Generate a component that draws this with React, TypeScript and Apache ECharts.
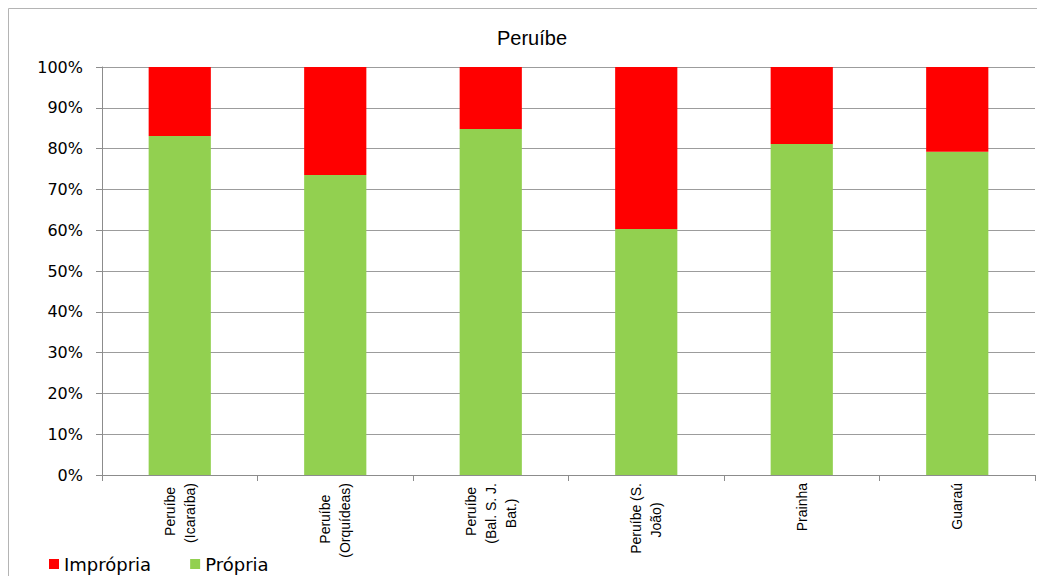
import React, { useEffect, useRef } from "react";
import * as echarts from "echarts";

const categories = [
  "Peruíbe\n(Icaraíba)",
  "Peruíbe\n(Orquídeas)",
  "Peruíbe\n(Bal. S. J.\nBat.)",
  "Peruíbe (S.\nJoão)",
  "Prainha",
  "Guaraú",
];
const propria = [0.831, 0.735, 0.848, 0.603, 0.811, 0.792];
const impropria = [0.169, 0.265, 0.152, 0.397, 0.189, 0.208];
const legendNames = ["Imprópria", "Própria"];
const chartTitle = "Peruíbe";

const LABEL_FONT = "Liberation Sans";
const LABEL_SIZE = 14;
const LABEL_LH = 20;

function centerLines(label: string) {
  const canvas = document.createElement("canvas");
  const ctx = canvas.getContext("2d")!;
  ctx.font = `${LABEL_SIZE}px "${LABEL_FONT}"`;
  const lines = label.split("\n");
  const widths = lines.map((l) => ctx.measureText(l).width);
  const maxW = Math.max(...widths);
  const sp = ctx.measureText("\u00A0").width || 3.9;
  return lines
    .map((l, j) => {
      const n = Math.round((maxW - widths[j]) / 2 / sp);
      const pad = "\u00A0".repeat(n);
      return pad + l + pad;
    })
    .join("\n");
}

export default function App() {
  const ref = useRef<HTMLDivElement>(null);
  useEffect(() => {
    if (!ref.current) return;
    const chart = echarts.init(ref.current, null, { renderer: "svg" });
    chart.setOption({
      animation: false,
      backgroundColor: "#ffffff",
      title: {
        text: chartTitle,
        left: 527,
        top: 23,
        textAlign: "center",
        textStyle: {
          fontFamily: "Liberation Sans",
          fontSize: 20,
          fontWeight: "normal",
          color: "#000",
        },
      },
      graphic: [
        {
          type: "rect",
          shape: { x: 8.5, y: 8.5, width: 1100, height: 700 },
          style: { fill: "none", stroke: "#b4b4b4", lineWidth: 1 },
          silent: true,
        },
      ],
      legend: {
        data: legendNames,
        left: 49,
        top: 555,
        icon: "rect",
        itemWidth: 10,
        itemHeight: 10,
        itemGap: 39,
        textStyle: {
          fontFamily: "DejaVu Sans",
          fontSize: 18,
          color: "#000",
          padding: [0, 0, 0, 0],
        },
        padding: 0,
      },
      grid: { left: 102, top: 67, right: 2, bottom: 101, containLabel: false },
      xAxis: {
        type: "category",
        data: categories,
        axisLine: { show: true, lineStyle: { color: "#8c8c8c", width: 1 } },
        axisTick: { show: true, length: 6, alignWithLabel: false, lineStyle: { color: "#8c8c8c" } },
        axisLabel: {
          rotate: 90,
          margin: 8,
          interval: 0,
          fontFamily: LABEL_FONT,
          fontSize: LABEL_SIZE,
          lineHeight: LABEL_LH,
          color: "#000",
          formatter: (v: string) => centerLines(v),
        },
      },
      yAxis: {
        type: "value",
        min: 0,
        max: 1,
        interval: 0.1,
        axisLine: { show: true, lineStyle: { color: "#8c8c8c", width: 1 } },
        axisTick: { show: true, length: 6, lineStyle: { color: "#8c8c8c" } },
        splitLine: { show: true, lineStyle: { color: "#9c9c9c", width: 1 } },
        axisLabel: {
          margin: 19,
          fontFamily: "DejaVu Sans",
          fontSize: 16,
          color: "#000",
          formatter: (v: number) => Math.round(v * 100) + "%",
        },
      },
      series: [
        {
          name: "Própria",
          type: "bar",
          stack: "total",
          data: propria,
          barWidth: "40%",
          itemStyle: { color: "#92d050" },
        },
        {
          name: "Imprópria",
          type: "bar",
          stack: "total",
          data: impropria,
          barWidth: "40%",
          itemStyle: { color: "#ff0000" },
        },
      ],
    });
    return () => chart.dispose();
  }, []);
  return (
    <div
      ref={ref}
      style={{ position: "fixed", left: 0, top: 0, width: 1037, height: 576 }}
    />
  );
}
